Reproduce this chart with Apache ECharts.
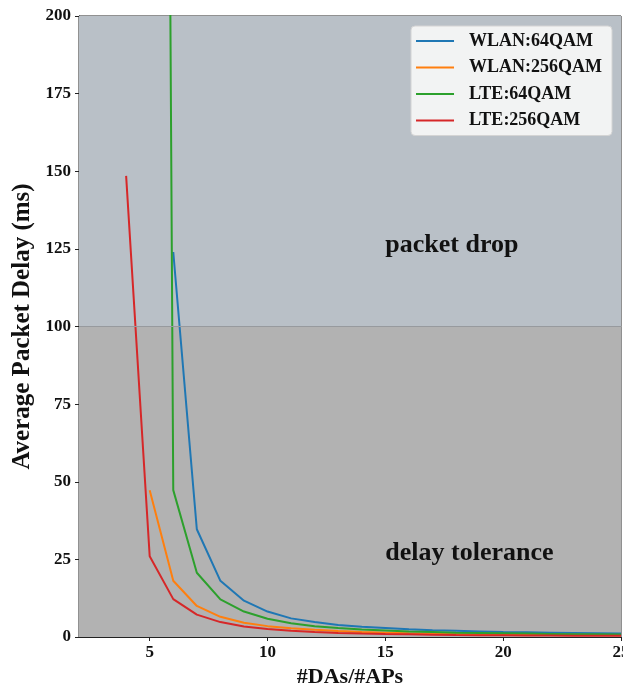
<!DOCTYPE html>
<html>
<head>
    <meta charset="utf-8">
    <title>Average Packet Delay</title>
    <script src="https://cdn.jsdelivr.net/npm/echarts@6/dist/echarts.min.js"></script>
    <style>
        html, body { margin: 0; padding: 0; background: #fff; }
        #chart { width: 623px; height: 687px; }
    </style>
</head>
<body>
<div id="chart"></div>
<script>
    // x = #DAs/#APs
    var ratios = [4, 5, 6, 7, 8, 9, 10, 11, 12, 13, 14, 15, 16, 17, 18, 19, 20, 21, 22, 23, 24, 25];
    var wlan64 = [null, null, 124, 34.7, 18.1, 11.7, 8.2, 6.0, 4.8, 3.9, 3.3, 2.9, 2.5, 2.2, 2.0, 1.8, 1.6, 1.5, 1.4, 1.3, 1.2, 1.1];
    var wlan256 = [null, 47.3, 18.1, 10.0, 6.5, 4.6, 3.5, 2.8, 2.3, 1.9, 1.6, 1.4, 1.2, 1.1, 1.0, 0.9, 0.85, 0.8, 0.75, 0.7, 0.65, 0.6];
    var lte64 = [null, 1300, 47.3, 20.7, 12.1, 8.2, 5.9, 4.4, 3.5, 2.9, 2.4, 2.1, 1.8, 1.6, 1.4, 1.3, 1.2, 1.1, 1.0, 0.9, 0.85, 0.8];
    var lte256 = [148.5, 26, 12.2, 7.2, 4.8, 3.4, 2.6, 2.0, 1.6, 1.3, 1.1, 0.95, 0.85, 0.75, 0.65, 0.6, 0.55, 0.5, 0.47, 0.44, 0.42, 0.4];
    var seriesNames = ['WLAN:64QAM', 'WLAN:256QAM', 'LTE:64QAM', 'LTE:256QAM'];
    var xTicks = [5, 10, 15, 20, 25];
    var dropLimit = 100;

    var font = 'Liberation Serif';
    var colors = ['#1f77b4', '#ff7f0e', '#2ca02c', '#d62728'];

    function pairs(arr) {
        return ratios.map(function (x, i) { return [x, arr[i]]; });
    }

    var chart = echarts.init(document.getElementById('chart'));
    var option = {
        animation: false,
        color: colors,
        grid: {
            left: 79, right: 2, top: 16, bottom: 50,
            outerBoundsMode: 'none', containLabel: false,
            show: true, borderColor: '#222', borderWidth: 1,
            backgroundColor: 'transparent'
        },
        legend: {
            orient: 'vertical',
            right: 11, top: 26,
            padding: [6, 10, 6, 5],
            icon: 'rect',
            itemWidth: 38, itemHeight: 2, itemGap: 8.5,
            backgroundColor: 'rgba(244,245,246,0.95)',
            borderColor: '#d4d4d4', borderWidth: 1, borderRadius: 4,
            textStyle: { fontFamily: font, fontWeight: 'bold', fontSize: 18, color: '#111', lineHeight: 18, padding: [0, 0, 0, 10] },
            data: seriesNames
        },
        xAxis: {
            type: 'value', min: 2, max: 25,
            name: '#DAs/#APs', nameLocation: 'middle', nameGap: 27,
            nameTextStyle: { fontFamily: font, fontWeight: 'bold', fontSize: 22, color: '#111' },
            axisLine: { lineStyle: { color: '#222', width: 1 } },
            axisTick: { show: true, length: 4, customValues: xTicks, lineStyle: { color: '#222' } },
            axisLabel: { customValues: xTicks, margin: 7, fontFamily: font, fontWeight: 'bold', fontSize: 17, color: '#111' },
            splitLine: { show: false }
        },
        yAxis: {
            type: 'value', min: 0, max: 200, interval: 25,
            name: 'Average Packet Delay (ms)', nameLocation: 'middle', nameGap: 43,
            nameTextStyle: { fontFamily: font, fontWeight: 'bold', fontSize: 25, color: '#111' },
            axisLine: { show: true, lineStyle: { color: '#222', width: 1 } },
            axisTick: { show: true, length: 4, lineStyle: { color: '#222' } },
            axisLabel: { margin: 8, fontFamily: font, fontWeight: 'bold', fontSize: 17, color: '#111' },
            splitLine: { show: false }
        },
        series: [
            {
                name: seriesNames[0], type: 'line', data: pairs(wlan64),
                symbol: 'none', lineStyle: { width: 2 }, clip: true, z: 3,
                markArea: {
                    silent: true,
                    data: [
                        [{ yAxis: 0, itemStyle: { color: '#b2b2b2' } }, { yAxis: dropLimit }],
                        [{ yAxis: dropLimit, itemStyle: { color: '#b9c0c7' } }, { yAxis: 200 }]
                    ]
                },
                markLine: {
                    silent: true, symbol: 'none', label: { show: false },
                    lineStyle: { color: '#979a9e', width: 1, type: 'solid' },
                    data: [{ yAxis: dropLimit }]
                },
                markPoint: {
                    silent: true, symbol: 'circle', symbolSize: 0,
                    label: {
                        show: true, position: 'right', distance: 0,
                        fontFamily: font, fontWeight: 'bold', fontSize: 26, color: '#111',
                        formatter: function (p) { return p.name; }
                    },
                    data: [
                        { name: 'packet drop', coord: [15, 126] },
                        { name: 'delay tolerance', coord: [15, 27] }
                    ]
                }
            },
            { name: seriesNames[1], type: 'line', data: pairs(wlan256), symbol: 'none', lineStyle: { width: 2 }, clip: true, z: 3 },
            { name: seriesNames[2], type: 'line', data: pairs(lte64), symbol: 'none', lineStyle: { width: 2 }, clip: true, z: 3 },
            { name: seriesNames[3], type: 'line', data: pairs(lte256), symbol: 'none', lineStyle: { width: 2 }, clip: true, z: 3 }
        ]
    };
    chart.setOption(option);
</script>
</body>
</html>
